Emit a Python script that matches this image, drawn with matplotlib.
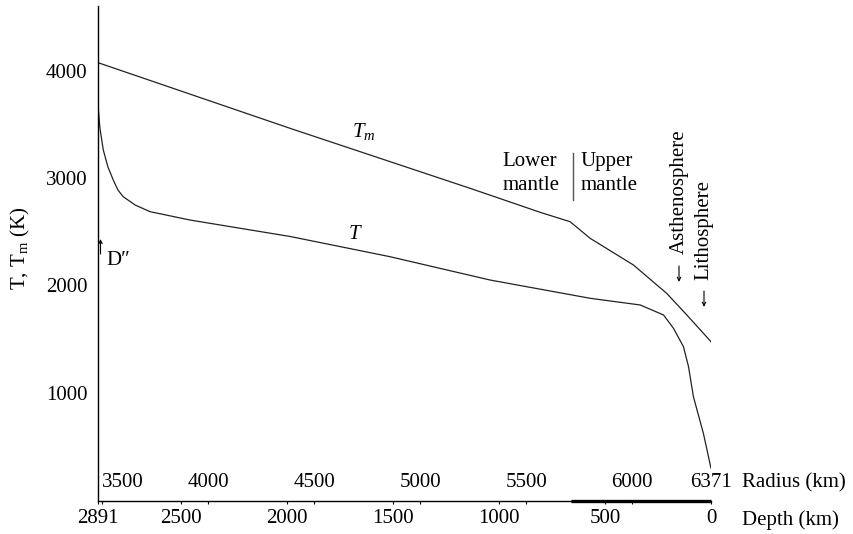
import matplotlib
matplotlib.use("Agg")
import matplotlib.pyplot as plt
from matplotlib import transforms

plt.rcParams['font.family'] = ['Liberation Serif', 'DejaVu Serif']
plt.rcParams['mathtext.fontset'] = 'custom'
plt.rcParams['mathtext.rm'] = 'Liberation Serif'
plt.rcParams['mathtext.it'] = 'Liberation Serif:italic'

# ---- data (depth in km, temperature in K) ----
depth_Tm = [2891, 1985, 1136, 806, 680, 665, 570, 366, 209, 114, 0]
Tm = [4073, 3462, 2904, 2681, 2603, 2594, 2439, 2191, 1927, 1726, 1477]

depth_T = [2891, 2882, 2866, 2844, 2819, 2797, 2772, 2716, 2646, 2457, 1985,
           1514, 1042, 570, 334, 224, 177, 130, 106, 83, 36, 0]
T = [3679, 3465, 3260, 3102, 2981, 2888, 2826, 2749, 2687, 2609, 2456,
     2268, 2051, 1881, 1819, 1726, 1602, 1431, 1245, 966, 625, 300]

depth_ticks = [2891, 2500, 2000, 1500, 1000, 500, 0]
radius_ticks = [3500, 4000, 4500, 5000, 5500, 6000, 6371]
earth_radius = 6371
y_ticks = [1000, 2000, 3000, 4000]
upper_mantle_depth = 660

W, H = 854, 534
fig = plt.figure(figsize=(W / 100, H / 100), dpi=100)
ax = fig.add_axes([98 / W, (H - 500.5) / H, (711 - 98) / W, 494.5 / H])

ax.plot(depth_Tm, Tm, color='#222222', lw=0.9)
ax.plot(depth_T, T, color='#222222', lw=0.9)

ax.set_xlim(2891, 0)
ax.set_ylim(0, 4600)

for s in ['top', 'right']:
    ax.spines[s].set_visible(False)
for s in ['left', 'bottom']:
    ax.spines[s].set_linewidth(1.0)

# thick upper-mantle segment of the base line
ax.plot([upper_mantle_depth, 0], [0, 0], color='black', lw=2.4,
        clip_on=False, solid_capstyle='butt')

fs = 15
ax.set_yticks(y_ticks)
ax.set_yticklabels([str(v) for v in y_ticks], fontsize=fs)
ax.tick_params(axis='y', length=0, pad=7.5)

ax.set_xticks(depth_ticks)
ax.set_xticklabels([str(v) for v in depth_ticks], fontsize=fs)
ax.set_xticks([earth_radius - r for r in radius_ticks], minor=True)
ax.tick_params(axis='x', which='both', length=2, width=0.8, pad=4)

# radius labels above the base line
trans = transforms.blended_transform_factory(ax.transData, ax.transAxes)
for r in radius_ticks:
    ha = 'left' if r == radius_ticks[0] else 'center'
    ax.text(earth_radius - r, 0.0263, str(r), transform=trans, ha=ha,
            va='baseline', fontsize=fs)

fig.text(741.7 / W, 1 - 487.5 / H, 'Radius (km)', fontsize=fs, va='baseline')
fig.text(741.7 / W, 1 - 524.5 / H, 'Depth (km)', fontsize=fs, va='baseline')

fig.text(20 / W, 1 - 248 / H, r'T, T$_\mathrm{m}$ (K)', fontsize=fs,
         rotation=90, ha='center', va='center')

# curve labels
ax.text(1694, 3379, r'$T_m$', fontsize=fs, ha='left', va='baseline')
ax.text(1710, 2430, 'T', fontsize=fs, style='italic', ha='left', va='baseline')

ax.text(985, 3115, 'Lower', fontsize=fs, ha='left', va='baseline')
ax.text(985, 2892, 'mantle', fontsize=fs, ha='left', va='baseline')
ax.text(617, 3115, 'Upper', fontsize=fs, ha='left', va='baseline')
ax.text(617, 2892, 'mantle', fontsize=fs, ha='left', va='baseline')
ax.plot([652, 652], [2795, 3233], color='#555555', lw=1.0)

fig.text(679 / W, 1 - 192 / H, 'Asthenosphere', fontsize=fs,
         rotation=90, ha='center', va='center')
fig.text(704 / W, 1 - 230.5 / H, 'Lithosphere', fontsize=fs,
         rotation=90, ha='center', va='center')


def arrow(x0, y0, x1, y1):
    ax.annotate('', xy=(x1, H - y1), xytext=(x0, H - y0),
                xycoords='figure pixels', textcoords='figure pixels',
                arrowprops=dict(arrowstyle='->,head_length=0.25,head_width=0.12',
                                lw=0.8, color='black', shrinkA=0, shrinkB=0))


arrow(679, 266, 679, 282)
arrow(704, 291, 704, 307)
arrow(100.5, 254, 100.5, 239)

# D'' marker
fig.text(106 / W, 1 - 265 / H, 'D″', fontsize=fs, ha='left', va='baseline')

fig.savefig('out.png', dpi=100)
